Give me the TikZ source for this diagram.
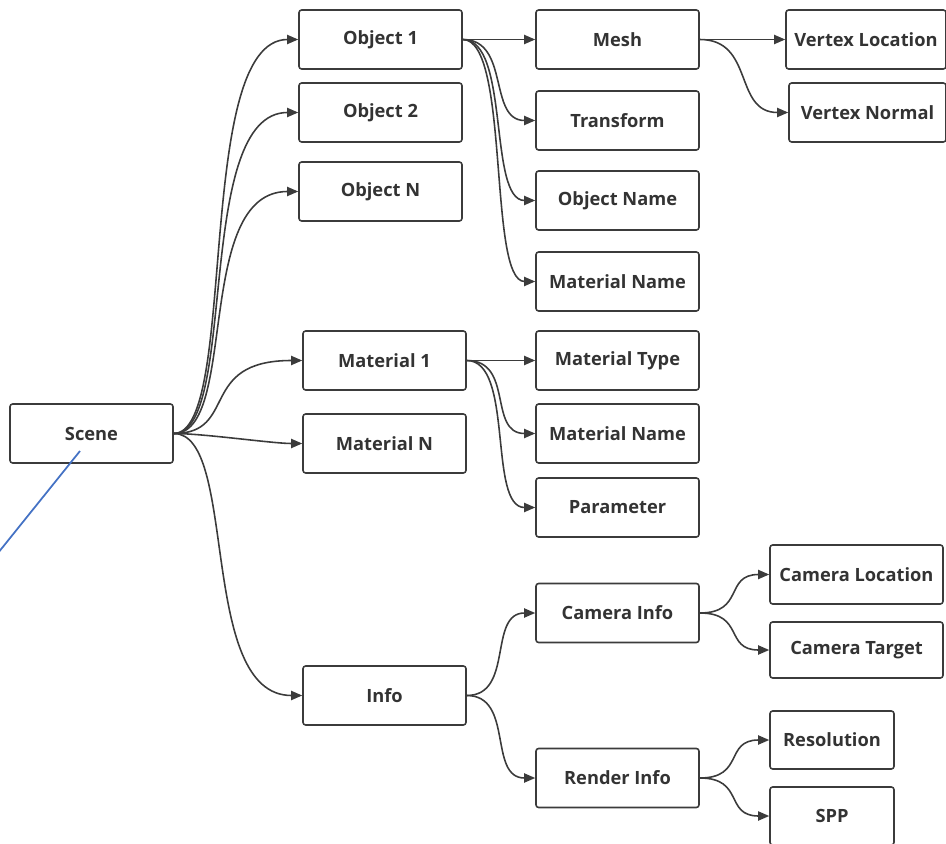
\documentclass[tikz,border=0pt]{standalone}
\usepackage{fontspec}
\setmainfont{Open Sans}
\usetikzlibrary{arrows.meta}

\definecolor{linegray}{HTML}{3B3B3B}
\definecolor{textgray}{HTML}{333333}
\definecolor{penblue}{HTML}{4472C4}

\begin{document}
\begin{tikzpicture}[x=0.02cm,y=-0.02cm,
    box/.style={draw=linegray,line width=0.9pt,rounded corners=1.5pt,inner sep=0pt,
        minimum width=3.26cm,minimum height=1.18cm,text=textgray,
        font=\fontsize{10.4}{12}\selectfont\bfseries},
    branch/.style={draw=linegray,line width=0.9pt,-{Triangle[length=6.3pt,width=5.2pt]},
        out=0,in=180,out distance=#1,in distance=#1},
    branch/.default=1.9cm,
    rootbranch/.style={branch=2.1cm,out distance=1.3cm}]

% fix the page size
\useasboundingbox (0,0) rectangle (946,844);

% root
\node[box] (scene) at (91.5,433.5) {Scene};

% first level
\node[box] (obj1) at (380.5,39.5) {Object 1};
\node[box] (obj2) at (380.5,112.5) {Object 2};
\node[box] (objN) at (380.5,191.5) {Object N};
\node[box] (mat1) at (384.5,360.5) {Material 1};
\node[box] (matN) at (384.5,443.5) {Material N};
\node[box] (info) at (384.5,695.5) {Info};

% second level
\node[box] (mesh) at (617.5,39.5) {Mesh};
\node[box] (trans) at (617.5,120.5) {Transform};
\node[box] (objname) at (617.5,200.5) {Object Name};
\node[box] (matname) at (617.5,281.5) {Material Name};
\node[box] (mattype) at (617.5,360.5) {Material Type};
\node[box] (matname2) at (617.5,433.5) {Material Name};
\node[box] (param) at (617.5,507.5) {Parameter};
\node[box] (caminfo) at (617.5,613) {Camera Info};
\node[box] (rendinfo) at (617.5,778) {Render Info};

% third level
\node[box,minimum width=3.2cm] (vloc) at (866,39.5) {Vertex Location};
\node[box,minimum width=3.14cm] (vnorm) at (867.5,112.5) {Vertex Normal};
\node[box,minimum width=3.46cm] (camloc) at (856.5,574.5) {Camera Location};
\node[box,minimum width=3.46cm,minimum height=1.12cm] (camtgt) at (856.5,650) {Camera Target};
\node[box,minimum width=2.48cm,minimum height=1.16cm] (res) at (832,740) {Resolution};
\node[box,minimum width=2.48cm,minimum height=1.16cm] (spp) at (832,816) {SPP};

% connectors from the root
\draw[rootbranch] (scene.east) to (obj1.west);
\draw[rootbranch] (scene.east) to (obj2.west);
\draw[rootbranch] (scene.east) to (objN.west);
\draw[rootbranch] (scene.east) to (mat1.west);
\draw[branch=0.6cm] (scene.east) to (matN.west);
\draw[rootbranch] (scene.east) to (info.west);

% connectors of the first level
\draw[branch=0.95cm] (obj1.east) to (mesh.west);
\draw[branch=0.95cm] (obj1.east) to (trans.west);
\draw[branch=0.95cm] (obj1.east) to (objname.west);
\draw[branch=0.95cm] (obj1.east) to (matname.west);
\draw[branch=0.95cm] (mat1.east) to (mattype.west);
\draw[branch=0.95cm] (mat1.east) to (matname2.west);
\draw[branch=0.95cm] (mat1.east) to (param.west);
\draw[branch=0.95cm] (info.east) to (caminfo.west);
\draw[branch=0.95cm] (info.east) to (rendinfo.west);

% connectors of the second level
\draw[branch=1.1cm] (mesh.east) to (vloc.west);
\draw[branch=1.1cm] (mesh.east) to (vnorm.west);
\draw[branch=0.9cm] (caminfo.east) to (camloc.west);
\draw[branch=0.9cm] (caminfo.east) to (camtgt.west);
\draw[branch=0.9cm] (rendinfo.east) to (res.west);
\draw[branch=0.9cm] (rendinfo.east) to (spp.west);

% blue pen stroke
\coordinate (penA) at (80,451);
\coordinate (penB) at (-2,553);
\draw[penblue,line width=1pt] (penA) -- (penB);

\end{tikzpicture}
\end{document}
